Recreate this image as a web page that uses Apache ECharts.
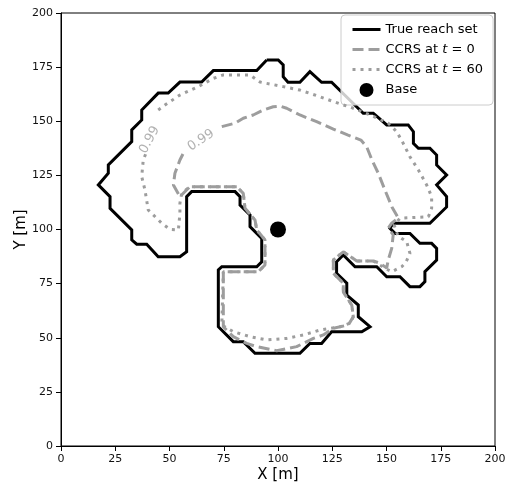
<!DOCTYPE html>
<html>
<head>
<meta charset="utf-8">
<script src="https://cdn.jsdelivr.net/npm/echarts@6/dist/echarts.min.js"></script>
<style>
  html, body { margin: 0; padding: 0; background: #fff; }
  #chart { width: 505px; height: 487px; }
</style>
</head>
<body>
<div id="chart"></div>
<script>
// Boundary of the true reachable set [x, y] in metres (closed outline)
const trueReachSet = [
  [94.8,178.3],[100.1,178.3],[102.4,176.0],[102.4,170.6],[104.6,168.0],[110.1,168.0],
  [114.7,172.9],[120.1,168.0],[124.7,168.0],[139.3,153.7],[143.9,153.7],[150.1,148.3],
  [160.0,148.3],[162.4,145.2],[162.4,139.8],[164.7,137.5],[170.0,137.5],[173.1,134.4],
  [173.1,129.8],[177.7,125.2],[173.1,120.6],[177.7,115.2],[177.7,110.4],[170.0,102.9],
  [153.1,102.9],[151.6,100.6],[153.9,98.2],[160.8,98.2],[165.4,93.6],[170.8,93.6],
  [173.1,91.3],[173.1,85.9],[167.7,80.5],[167.7,75.9],[165.4,73.6],[160.8,73.6],
  [156.2,78.2],[150.1,78.2],[145.5,82.8],[135.5,82.8],[130.1,88.2],[127.0,85.1],
  [127.0,79.8],[131.7,75.2],[131.7,69.7],[137.0,65.1],[137.0,59.7],[142.4,55.1],
  [138.6,52.8],[124.7,52.8],[120.1,47.4],[114.7,47.4],[110.1,42.8],[89.4,42.8],
  [84.0,48.2],[79.4,48.2],[72.5,55.1],[72.5,81.3],[74.1,82.8],[90.2,82.8],
  [92.5,85.1],[92.5,95.9],[87.1,101.3],[87.1,106.7],[82.5,111.3],[82.5,115.2],
  [80.2,117.5],[60.2,117.5],[57.9,115.2],[57.9,89.7],[54.8,87.4],[44.8,87.4],
  [39.5,93.2],[34.9,93.2],[32.6,95.2],[32.6,99.8],[22.6,109.8],[22.6,115.2],
  [17.2,120.6],[21.8,126.0],[21.8,129.8],[32.6,140.6],[32.6,146.0],[37.2,150.6],
  [37.2,155.2],[44.8,163.0],[49.4,163.0],[54.8,168.1],[64.8,168.1],[70.2,173.4],
  [90.2,173.4],[94.8,178.3]
];

// 0.99 contour of the CCRS at t = 0 (open where the level label sits)
const ccrsT0 = [
  [74.1,147.5],[80.2,149.1],[84.0,151.4],[88.6,152.9],[93.2,155.2],[97.8,156.7],
  [100.9,157.0],[104.0,156.0],[110.1,152.9],[117.8,149.8],[125.5,146.4],[132.3,143.6],
  [138.2,141.3],[140.9,138.1],[143.3,132.1],[146.2,126.0],[149.3,118.2],[152.5,110.4],
  [155.4,105.3],[152.4,102.9],[150.8,100.6],[153.1,97.5],[152.4,91.3],[150.8,85.9],
  [150.1,82.2],[147.0,84.4],[143.9,85.5],[136.3,85.5],[130.1,89.7],[125.5,85.9],
  [125.5,79.8],[130.1,75.2],[130.1,71.1],[134.0,65.1],[134.7,59.7],[132.4,55.9],
  [125.5,54.4],[120.9,51.3],[116.3,49.7],[108.6,45.9],[99.4,44.0],[90.2,45.9],
  [85.6,47.4],[79.4,50.5],[74.8,55.1],[74.8,80.5],[90.9,80.5],[94.0,83.6],
  [94.0,95.2],[90.2,99.8],[89.4,104.4],[84.8,109.8],[84.0,116.7],[81.0,119.8],
  [59.4,119.8],[54.8,115.2],[51.8,120.6],[52.5,126.0],[54.8,132.1],[57.1,136.7]
];

// 0.99 contour of the CCRS at t = 60 (open where the level label sits)
const ccrsT60 = [
  [44.8,155.2],[47.9,157.5],[54.8,162.1],[63.3,166.0],[70.2,169.8],[74.8,171.4],
  [87.1,171.4],[91.7,168.1],[102.4,166.0],[110.1,164.4],[119.4,161.3],[128.6,158.0],
  [133.2,156.6],[142.4,152.9],[150.8,149.1],[154.7,145.2],[157.7,139.8],[160.8,133.6],
  [164.7,127.5],[168.5,120.6],[170.8,115.2],[170.8,109.8],[169.3,105.9],[156.2,105.2],
  [153.5,102.1],[155.3,97.0],[159.3,94.4],[160.8,89.0],[159.0,85.0],[157.0,82.8],
  [152.4,80.5],[149.3,82.1],[143.9,85.5],[136.3,85.5],[130.1,89.7],[125.5,85.9],
  [125.5,79.8],[130.1,75.2],[130.1,71.1],[134.0,65.1],[134.7,59.7],[133.2,56.7],
  [128.6,55.1],[119.4,53.6],[111.7,51.3],[104.0,49.7],[94.8,49.0],[87.1,50.5],
  [79.4,52.8],[74.1,55.9],[74.8,80.5],[90.9,80.5],[94.0,83.6],[94.0,95.2],
  [90.2,99.8],[89.4,104.4],[84.8,109.8],[84.0,116.7],[81.0,119.8],[59.4,119.8],
  [55.6,116.7],[54.8,112.1],[54.8,107.5],[54.1,99.8],[50.2,100.1],[46.4,102.9],
  [40.2,109.0],[38.7,118.2],[37.2,124.4],[37.9,132.1],[39.2,135.3]
];

// Base location
const basePoint = [[100, 100]];

// Axis ticks
const axisTicks = [0, 25, 50, 75, 100, 125, 150, 175, 200];

// Contour level printed on both CCRS lines
const contourLevel = '0.99';

const GRAY = '#9d9d9d';
const FONT = 'DejaVu Sans';

const chart = echarts.init(document.getElementById('chart'), null, { renderer: 'canvas' });

const axisCommon = {
  type: 'value',
  min: axisTicks[0],
  max: axisTicks[axisTicks.length - 1],
  interval: axisTicks[1] - axisTicks[0],
  nameLocation: 'middle',
  nameMoveOverlap: false,
  nameTextStyle: { fontFamily: FONT, fontSize: 15, color: '#000' },
  axisLine: { show: true, lineStyle: { color: '#000', width: 1 } },
  axisTick: { show: true, inside: false, length: 5, lineStyle: { color: '#000', width: 1 } },
  axisLabel: { fontFamily: FONT, fontSize: 11, color: '#111', margin: 8 },
  splitLine: { show: false }
};

const legendRich = { i: { fontStyle: 'italic', fontFamily: FONT, fontSize: 13, color: '#000' } };

chart.setOption({
  animation: false,
  backgroundColor: '#fff',
  grid: {
    left: 61, right: 10, top: 13, bottom: 41,
    containLabel: false,
    outerBoundsMode: 'none',
    show: true, borderColor: '#000', borderWidth: 1, backgroundColor: 'transparent'
  },
  xAxis: Object.assign({}, axisCommon, { name: 'X [m]', nameGap: 22 }),
  yAxis: Object.assign({}, axisCommon, { name: 'Y [m]', nameGap: 32 }),
  legend: {
    orient: 'vertical',
    left: 341, top: 15,
    padding: [8, 10, 8, 10],
    itemGap: 7,
    itemWidth: 28,
    itemHeight: 14,
    backgroundColor: 'rgba(255,255,255,0.8)',
    borderColor: '#cccccc',
    borderWidth: 1,
    borderRadius: 4,
    // line entries show only their stroke; the Base entry keeps its marker
    itemStyle: { opacity: 0 },
    lineStyle: { width: 3 },
    textStyle: { fontFamily: FONT, fontSize: 13, color: '#000', rich: legendRich },
    formatter: function (name) {
      return name.replace(' t ', ' {i|t} ');
    },
    data: [
      'True reach set',
      'CCRS at t = 0',
      'CCRS at t = 60',
      { name: 'Base', itemStyle: { opacity: 1 } }
    ]
  },
  series: [
    {
      name: 'True reach set',
      type: 'line',
      data: trueReachSet,
      symbol: 'none',
      lineStyle: { color: '#000', width: 3, join: 'miter' },
      itemStyle: { color: '#000' },
      z: 2
    },
    {
      name: 'CCRS at t = 0',
      type: 'line',
      data: ccrsT0,
      symbol: 'none',
      lineStyle: { color: GRAY, width: 3, type: [11, 5], cap: 'butt' },
      itemStyle: { color: GRAY },
      z: 3
    },
    {
      name: 'CCRS at t = 60',
      type: 'line',
      data: ccrsT60,
      symbol: 'none',
      lineStyle: { color: GRAY, width: 3, type: [3, 5], cap: 'butt' },
      itemStyle: { color: GRAY },
      z: 4
    },
    {
      name: 'Base',
      type: 'scatter',
      data: basePoint,
      symbol: 'circle',
      symbolSize: 16,
      itemStyle: { color: '#000', opacity: 1 },
      z: 5
    },
    {
      // in-line level labels of the two contour lines
      type: 'scatter',
      silent: true,
      symbolSize: 0,
      z: 6,
      data: [
        { value: [64.5, 141.2], label: { rotate: 33 } },
        { value: [40.8, 141.4], label: { rotate: 62 } }
      ],
      label: {
        show: true,
        position: 'inside',
        formatter: contourLevel,
        fontFamily: FONT,
        fontSize: 13,
        color: GRAY
      }
    }
  ]
});
</script>
</body>
</html>
